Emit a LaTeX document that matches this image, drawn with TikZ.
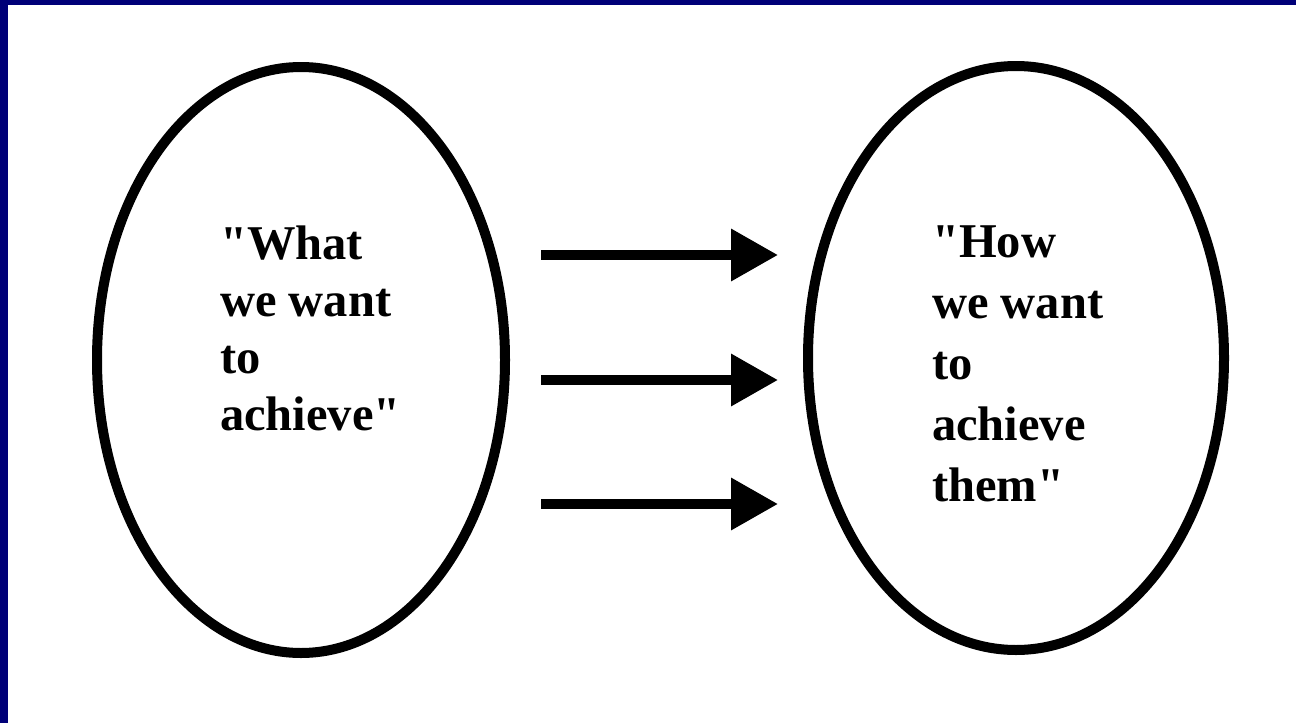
\documentclass[tikz,border=0pt]{standalone}
\usepackage{fontspec}
\setmainfont{Liberation Serif}[Ligatures=TeXOff]
\usetikzlibrary{arrows.meta,shapes.geometric}
\definecolor{navy}{RGB}{0,0,120}
\begin{document}
\begin{tikzpicture}[x=1pt,y=-1pt,
  oval/.style={draw=black,line width=10pt,ellipse,inner sep=0pt},
  label/.style={anchor=north west,inner sep=0pt,align=left,font=\fontsize{48.5}{57}\selectfont\bfseries},
  flow/.style={line width=10pt,-{Triangle[length=47pt,width=50pt]}}]
\useasboundingbox (0,0) rectangle (1296,723);
\fill[white] (0,0) rectangle (1296,723);
\fill[navy] (0,0) rectangle (1296,5);
\fill[navy] (0,0) rectangle (8,723);
\node[oval,minimum width=408pt,minimum height=586pt] (what) at (301,360) {};
\node[oval,minimum width=416pt,minimum height=584pt] (how) at (1016,358) {};
\node[label] (whattext) at (220,226) {"What\\we want\\to\\achieve"};
\node[label,font=\fontsize{48.5}{61}\selectfont\bfseries] (howtext) at (932,226) {"How\\we want\\to\\achieve\\them"};
\coordinate (a1s) at (541,255); \coordinate (a1e) at (778,255);
\coordinate (a2s) at (541,380); \coordinate (a2e) at (778,380);
\coordinate (a3s) at (541,504); \coordinate (a3e) at (778,504);
\draw[flow] (a1s) -- (a1e);
\draw[flow] (a2s) -- (a2e);
\draw[flow] (a3s) -- (a3e);
\end{tikzpicture}
\end{document}
